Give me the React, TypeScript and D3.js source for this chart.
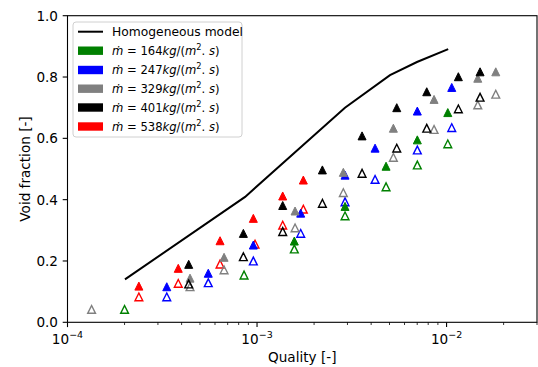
import React from 'react';
import * as d3 from 'd3';

// Homogeneous model curve (quality, void fraction)
const homogeneous: [number, number][] = [
  [2.01e-4, 0.14], [8.65e-4, 0.409], [2.91e-3, 0.7], [5.03e-3, 0.806], [6.98e-3, 0.849], [1.02e-2, 0.891],
];

// Measured points per mass flux: filled and open markers
const filled164: [number, number][] = [
  [1.573e-3, 0.265], [2.913e-3, 0.378], [4.794e-3, 0.509], [7.01e-3, 0.595], [1.015e-2, 0.684],
];
const open164: [number, number][] = [
  [2.0e-4, 0.042], [8.54e-4, 0.154], [1.573e-3, 0.239], [2.913e-3, 0.347], [4.794e-3, 0.442], [7.01e-3, 0.513], [1.015e-2, 0.582],
];
const filled247: [number, number][] = [
  [3.34e-4, 0.116], [5.53e-4, 0.16], [9.56e-4, 0.252], [1.7e-3, 0.356], [2.913e-3, 0.48], [4.195e-3, 0.568], [7.01e-3, 0.689], [1.065e-2, 0.766],
];
const open247: [number, number][] = [
  [3.34e-4, 0.083], [5.53e-4, 0.129], [9.56e-4, 0.2], [1.7e-3, 0.29], [2.913e-3, 0.393], [4.195e-3, 0.466], [7.01e-3, 0.562], [1.065e-2, 0.635],
];
const filled329: [number, number][] = [
  [4.43e-4, 0.144], [6.7e-4, 0.212], [1.587e-3, 0.363], [2.853e-3, 0.489], [5.24e-3, 0.633], [8.59e-3, 0.727], [1.461e-2, 0.796], [1.818e-2, 0.817],
];
const open329: [number, number][] = [
  [1.34e-4, 0.042], [4.43e-4, 0.116], [6.7e-4, 0.171], [1.587e-3, 0.308], [2.853e-3, 0.423], [5.24e-3, 0.538], [8.59e-3, 0.629], [1.461e-2, 0.709], [1.818e-2, 0.744],
];
const filled401: [number, number][] = [
  [4.36e-4, 0.189], [8.47e-4, 0.29], [1.366e-3, 0.381], [2.212e-3, 0.497], [3.582e-3, 0.608], [5.46e-3, 0.7], [7.86e-3, 0.752], [1.154e-2, 0.801], [1.502e-2, 0.817],
];
const open401: [number, number][] = [
  [4.36e-4, 0.125], [8.47e-4, 0.214], [1.366e-3, 0.296], [2.212e-3, 0.388], [3.582e-3, 0.486], [5.46e-3, 0.568], [7.86e-3, 0.633], [1.154e-2, 0.696], [1.502e-2, 0.734],
];
const filled538: [number, number][] = [
  [2.38e-4, 0.118], [3.84e-4, 0.176], [6.38e-4, 0.266], [9.56e-4, 0.339], [1.366e-3, 0.412], [1.755e-3, 0.464],
];
const open538: [number, number][] = [
  [2.38e-4, 0.083], [3.84e-4, 0.127], [6.38e-4, 0.19], [9.76e-4, 0.255], [1.366e-3, 0.317], [1.755e-3, 0.369],
];

const massFluxes = ['164', '247', '329', '401', '538'];
const colors = ['#008000', '#0000ff', '#808080', '#000000', '#ff0000'];
const filledSets = [filled164, filled247, filled329, filled401, filled538];
const openSets = [open164, open247, open329, open401, open538];
const drawOrder = [4, 1, 2, 3, 0];

const yTicks = [0, 0.2, 0.4, 0.6, 0.8, 1.0];
const xMajor = [1e-4, 1e-3, 1e-2];
const xExponents = ['−4', '−3', '−2'];

const W = 538;
const H = 367;
const margin = { top: 15.7, right: 1, bottom: 44.7, left: 67.5 };
const FONT = 'DejaVu Sans, sans-serif';

const tri = (cx: number, cy: number, h: number) =>
  `M${cx},${cy - h}L${cx - h},${cy + h}L${cx + h},${cy + h}Z`;

const App: React.FC = () => {
  const x = d3.scaleLog().domain([1e-4, 3e-2]).range([margin.left, W - margin.right]);
  const y = d3.scaleLinear().domain([0, 1]).range([H - margin.bottom, margin.top]);

  const xMinor: number[] = [];
  for (let k = -4; k <= -2; k++) {
    for (let m = 2; m <= 9; m++) {
      const v = m * Math.pow(10, k);
      if (v <= 3e-2 + 1e-9) xMinor.push(v);
    }
  }

  const line = d3
    .line<[number, number]>()
    .x(d => x(d[0]))
    .y(d => y(d[1]));

  const bottom = H - margin.bottom;
  const legendRows = [31.7, 50.7, 70, 88.7, 107.5, 126.5];

  return (
    <svg
      width={W}
      height={H}
      style={{ position: 'absolute', left: 0, top: 0, background: '#fff' }}
      fontFamily={FONT}
    >
      <rect x={0} y={0} width={W} height={H} fill="#fff" />

      {/* homogeneous model */}
      <path d={line(homogeneous) || ''} fill="none" stroke="#000" strokeWidth={2} />

      {/* markers */}
      {drawOrder.map(i => (
        <g key={'s' + i}>
          {filledSets[i].map((d, j) => (
            <path key={'f' + j} d={tri(x(d[0]), y(d[1]), 4)} fill={colors[i]} stroke={colors[i]} strokeWidth={1} />
          ))}
          {openSets[i].map((d, j) => (
            <path key={'o' + j} d={tri(x(d[0]), y(d[1]), 3.9)} fill="none" stroke={colors[i]} strokeWidth={1.4} />
          ))}
        </g>
      ))}

      {/* frame */}
      <rect
        x={margin.left}
        y={margin.top}
        width={W - margin.right - margin.left}
        height={bottom - margin.top}
        fill="none"
        stroke="#000"
        strokeWidth={1.1}
      />

      {/* y axis */}
      {yTicks.map(t => (
        <g key={'y' + t}>
          <line x1={margin.left - 4.8} x2={margin.left} y1={y(t)} y2={y(t)} stroke="#000" strokeWidth={1.1} />
          <text x={margin.left - 9.5} y={y(t)} dy="0.36em" textAnchor="end" fontSize={13.6}>
            {t.toFixed(1)}
          </text>
        </g>
      ))}

      {/* x axis */}
      {xMinor.map(t => (
        <line key={'m' + t} x1={x(t)} x2={x(t)} y1={bottom} y2={bottom + 2.7} stroke="#000" strokeWidth={0.8} />
      ))}
      {xMajor.map((t, i) => (
        <g key={'x' + t}>
          <line x1={x(t)} x2={x(t)} y1={bottom} y2={bottom + 4.8} stroke="#000" strokeWidth={1.1} />
          <text x={x(t)} y={bottom + 21.5} textAnchor="middle" fontSize={13.6}>
            10
            <tspan fontSize={9.5} dy={-6}>
              {xExponents[i]}
            </tspan>
          </text>
        </g>
      ))}

      <text x={(margin.left + W - margin.right) / 2} y={362} textAnchor="middle" fontSize={13.6}>
        Quality [-]
      </text>
      <text
        transform={`translate(30,${(margin.top + bottom) / 2}) rotate(-90)`}
        textAnchor="middle"
        fontSize={13.6}
      >
        Void fraction [-]
      </text>

      {/* legend */}
      <rect x={73} y={22} width={169} height={115} rx={3} fill="#fff" fillOpacity={0.8} stroke="#d0d0d0" strokeWidth={1} />
      <line x1={78} x2={103} y1={legendRows[0]} y2={legendRows[0]} stroke="#000" strokeWidth={2} />
      <text x={112} y={legendRows[0]} dy="0.36em" fontSize={12.3}>
        Homogeneous model
      </text>
      {massFluxes.map((mf, i) => (
        <g key={'l' + mf}>
          <rect x={78} y={legendRows[i + 1] - 4.2} width={25} height={8.4} fill={colors[i]} />
          <text x={112} y={legendRows[i + 1]} dy="0.36em" fontSize={11.6}>
            <tspan fontStyle="italic">ṁ</tspan>
            <tspan> = {mf}</tspan>
            <tspan fontStyle="italic">kg</tspan>
            <tspan>/(</tspan>
            <tspan fontStyle="italic">m</tspan>
            <tspan fontSize={8.2} dy={-4.8}>2</tspan>
            <tspan dy={4.8}>.</tspan>
            <tspan fontStyle="italic"> s</tspan>
            <tspan>)</tspan>
          </text>
        </g>
      ))}
    </svg>
  );
};

export default App;
